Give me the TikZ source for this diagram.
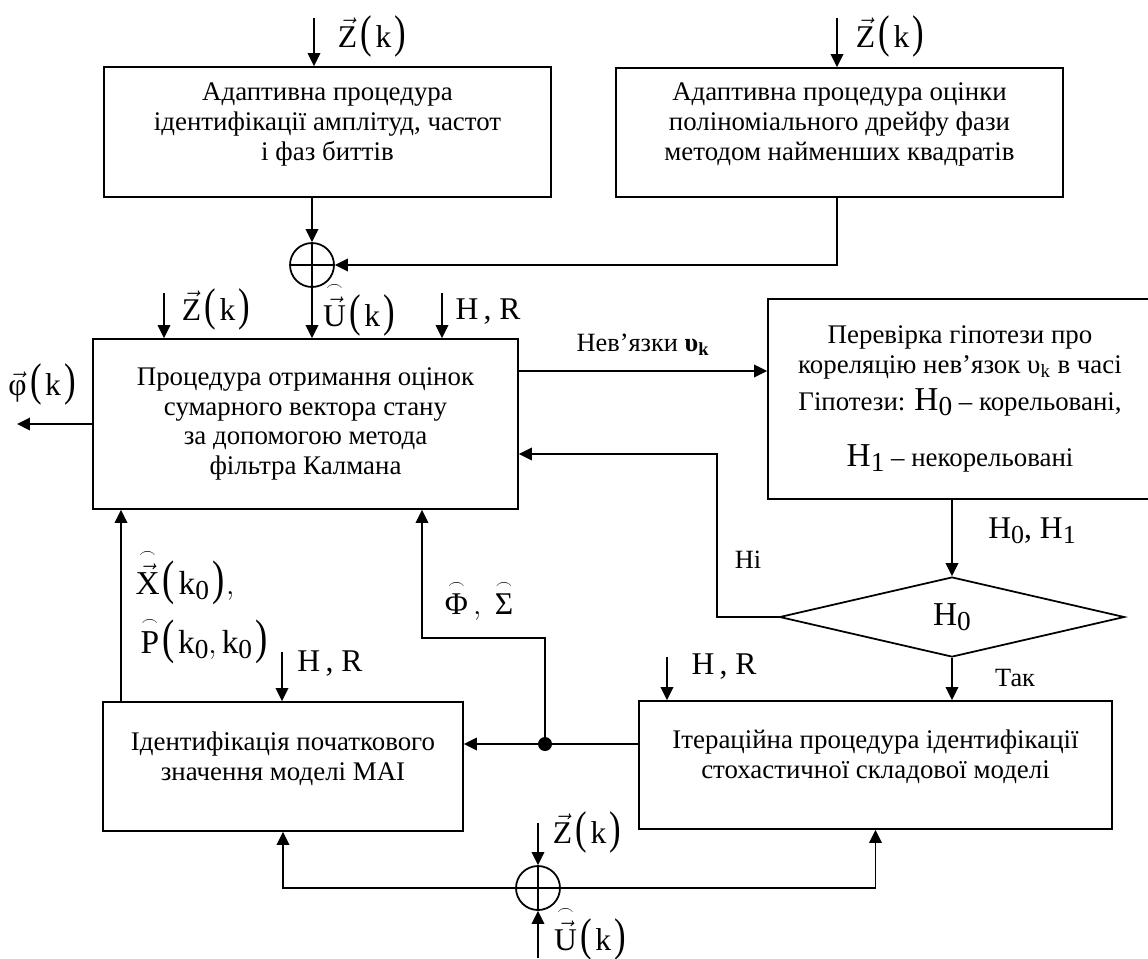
\documentclass[tikz,border=0pt]{standalone}
\usepackage{amsmath}
\usepackage{fontspec}
\setmainfont{Liberation Serif}
\usetikzlibrary{arrows.meta, positioning, shapes.geometric}

\newcommand{\lo}[1]{\raisebox{-0.35ex}{\scalebox{0.82}{#1}}}
\newcommand{\lpar}{\mathopen{\mkern2mu\text{\scalebox{1.1}[1.45]{(}}\mkern2mu}}
\newcommand{\rpar}{\mathclose{\mkern2mu\text{\scalebox{1.1}[1.45]{)}}\mkern1mu}}
\newcommand{\zvec}{$\vec{\mathrm{Z}}\lpar\mathrm{k}\rpar$}
\newcommand{\uvec}{$\overset{\scriptscriptstyle\frown}{\vec{\mathrm{U}}}\lpar\mathrm{k}\rpar$}
\newcommand{\hrpair}{H\,, R}
\newcommand{\lowpad}{\rule[-12pt]{0pt}{0pt}}

\begin{document}
\begin{tikzpicture}[x=0.02cm, y=-0.02cm,
	box/.style={draw, line width=1pt, align=center, inner sep=0pt, font=\fontsize{15.3}{17}\selectfont},
	sumnode/.style={draw, circle, line width=1pt, minimum size=0.88cm, inner sep=0pt,
		path picture={\draw[line width=1pt] (path picture bounding box.north) -- (path picture bounding box.south)
			(path picture bounding box.west) -- (path picture bounding box.east);}},
	arrow/.style={line width=1.1pt, -{Triangle[length=0.26cm, width=0.25cm]}},
	lbl/.style={inner sep=0pt, font=\fontsize{18}{21}\selectfont},
	big/.style={inner sep=0pt, font=\fontsize{19}{22}\selectfont},
	hrl/.style={inner sep=0pt, font=\fontsize{18}{21}\selectfont},
	small/.style={inner sep=0pt, font=\fontsize{15}{17}\selectfont}]
	
	\useasboundingbox (0,0) rectangle (1148,958);
	
	% верхні адаптивні процедури
	\node[box, minimum width=8.94cm, minimum height=2.6cm] (adapt) at (327.5,132)
		{Адаптивна процедура\\ідентифікації амплітуд, частот\\і фаз биттів\lowpad};
	\node[box, minimum width=8.94cm, minimum height=2.58cm] (drift) at (839.5,132.5)
		{Адаптивна процедура оцінки\\поліноміального дрейфу фази\\методом найменших квадратів\lowpad};
	\node[sumnode] (sumtop) at (312,265) {};
	
	% фільтр Калмана
	\node[box, minimum width=8.5cm, minimum height=3.4cm] (kalman) at (305.5,424)
		{Процедура отримання оцінок\\сумарного вектора стану\\за допомогою метода\\фільтра Калмана};
	
	% перевірка гіпотези
	\node[box, minimum width=7.68cm, minimum height=4cm] (hyp) at (960,399)
		{Перевірка гіпотези про\\кореляцію нев’язок υ\textsubscript{k} в часі\\[4pt]
		Гіпотези: {\fontsize{19}{21}\selectfont H\lo{0}} – корельовані,\\[15pt]
		{\fontsize{19}{21}\selectfont H\lo{1}} – некорельовані};
	\node[draw, diamond, line width=1pt, inner sep=0pt, minimum width=6.9cm, minimum height=1.6cm,
		font=\fontsize{19}{21}\selectfont] (dec) at (952,617) {H\lo{0}};
	
	% нижні блоки
	\node[box, minimum width=7.2cm, minimum height=2.58cm] (init) at (283,766.5)
		{Ідентифікація початкового\\значення моделі MAI\lowpad};
	\node[box, minimum width=9.46cm, minimum height=2.56cm] (iter) at (875.5,765)
		{Ітераційна процедура ідентифікації\\стохастичної складової моделі\lowpad};
	\node[sumnode] (sumbot) at (538,888) {};
	
	% вільні кінці стрілок
	\coordinate (zA) at (314,18);
	\coordinate (zB) at (837,18);
	\coordinate (zK) at (164,293);
	\coordinate (hK) at (442,293);
	\coordinate (phi) at (17,424);
	\coordinate (nv) at (518,371);
	\coordinate (fb) at (717,454);
	\coordinate (fs) at (422,638);
	\coordinate (jn) at (545,744);
	\coordinate (xk) at (121,702);
	\coordinate (hM) at (282,652);
	\coordinate (hI) at (667,657);
	\coordinate (zS) at (538,823);
	\coordinate (uS) at (538,958);
	
	% з'єднання
	\draw[arrow] (zA) -- (zA |- adapt.north);
	\draw[arrow] (zB) -- (zB |- drift.north);
	\draw[arrow] (sumtop |- adapt.south) -- (sumtop.north);
	\draw[arrow] (drift.south -| zB) |- (sumtop.east);
	\draw[arrow] (sumtop.south) -- (sumtop |- kalman.north);
	\draw[arrow] (zK) -- (zK |- kalman.north);
	\draw[arrow] (hK) -- (hK |- kalman.north);
	\draw[arrow] (kalman.west) -- (phi);
	\draw[arrow] (nv) -- (nv -| hyp.west);
	\draw[arrow] (hyp.south -| dec.north) -- (dec.north);
	\draw[arrow] (dec.west) -| (fb) -- (fb -| kalman.east);
	\draw[arrow] (dec.south) -- (dec.south |- iter.north);
	\draw[arrow] (hI) -- (hI |- iter.north);
	\draw[arrow] (jn -| iter.west) -- (jn -| init.east);
	\draw[arrow] (jn) |- (fs) -- (fs |- kalman.south);
	\draw[arrow] (xk) -- (xk |- kalman.south);
	\draw[arrow] (hM) -- (hM |- init.north);
	\draw[arrow] (zS) -- (sumbot.north);
	\draw[arrow] (uS) -- (sumbot.south);
	\draw[arrow] (sumbot.west) -| (init.south);
	\draw[arrow] (sumbot.east) -| (iter.south);
	\node[circle, fill, inner sep=0pt, minimum size=0.28cm] (dot) at (jn) {};
	
	% підписи
	\node[lbl] (zAl) at (373,36) {\zvec};
	\node[lbl] (zBl) at (891,36) {\zvec};
	\node[lbl] (zKl) at (217,309) {\zvec};
	\node[lbl] (uKl) at (360,309) {\uvec};
	\node[hrl] (hKl) at (488,312) {\hrpair};
	\node[lbl] (phil) at (43,384) {$\vec{\text{φ}}\lpar\mathrm{k}\rpar$};
	\node[small] (nvl) at (643,345) {Нев’язки \textbf{υ\textsubscript{k}}};
	\node[small] (nil) at (748,560) {Ні};
	\node[hrl] (h01l) at (1032,531) {H\lo{0}, H\lo{1}};
	\node[small] (takl) at (1015,678) {Так};
	\node[hrl] (hIl) at (724,667) {\hrpair};
	\node[hrl] (hMl) at (330,664) {\hrpair};
	\node[big] (xl) at (185,577) {$\overset{\scriptscriptstyle\frown}{\vec{\mathrm{X}}}\lpar\mathrm{k}\lo{0}\rpar,$};
	\node[big] (pl) at (205,640) {$\overset{\scriptscriptstyle\frown}{\mathrm{P}}\lpar\mathrm{k}\lo{0},\mathrm{k}\lo{0}\rpar$};
	\node[lbl] (fsl) at (479,600) {$\overset{\scriptscriptstyle\frown}{\text{Φ}}\,,\;\overset{\scriptscriptstyle\frown}{\text{Σ}}$};
	\node[lbl] (zSl) at (588,832) {\zvec};
	\node[lbl] (uSl) at (591,933) {\uvec};
	
\end{tikzpicture}
\end{document}
